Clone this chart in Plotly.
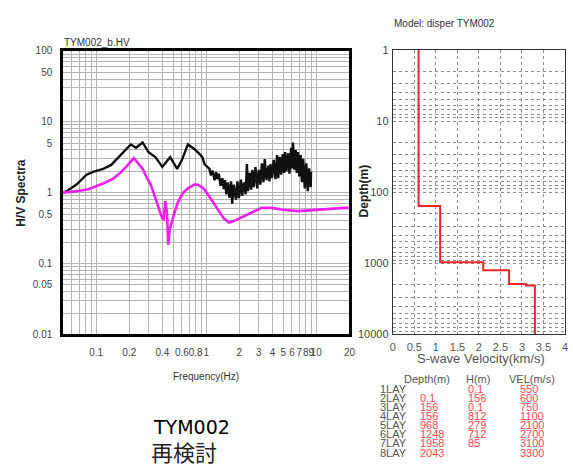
import math
import plotly.graph_objects as go

# ---------------- data ----------------
# Observed H/V (black, noisy)
freq_obs = [0.050, 0.054, 0.0667, 0.0818, 0.095, 0.116, 0.137, 0.161, 0.194, 0.206,
            0.230, 0.264, 0.299, 0.345, 0.399, 0.470, 0.544, 0.601, 0.681, 0.785,
            0.871, 0.927, 0.966, 1.03, 1.07,
            1.10, 1.14, 1.19, 1.23, 1.26, 1.30, 1.35, 1.40, 1.44, 1.48,
            1.52, 1.57, 1.62, 1.68, 1.72, 1.78, 1.86, 1.92, 1.98, 2.06,
            2.12, 2.20, 2.28, 2.34, 2.40, 2.48, 2.56, 2.62, 2.70, 2.80,
            2.90, 3.00, 3.10, 3.20, 3.31, 3.40, 3.52, 3.67, 3.75, 3.83,
            3.95, 4.10, 4.25, 4.40, 4.51, 4.65, 4.80, 4.95, 5.10, 5.21,
            5.35, 5.55, 5.70, 5.90, 6.00, 6.14, 6.30, 6.50, 6.65, 6.81,
            7.00, 7.20, 7.40, 7.60, 7.85, 8.10, 8.36, 8.60, 8.89, 8.95]
hv_obs = [1.00, 1.05, 1.31, 1.79, 1.98, 2.17, 2.46, 3.17, 4.30, 4.79,
          4.30, 5.10, 3.73, 3.17, 2.31, 3.17, 2.17, 2.88, 4.79, 4.09,
          3.50, 3.10, 2.50, 2.31, 2.17,
          1.75, 2.05, 1.50, 1.95, 1.55, 1.85, 1.25, 1.60, 1.12, 1.50,
          0.95, 1.40, 0.85, 1.44, 0.70, 1.30, 0.80, 1.44, 0.84, 1.53,
          0.90, 1.40, 0.95, 2.54, 1.05, 1.90, 1.10, 2.10, 1.20, 2.30,
          1.15, 2.10, 1.30, 2.60, 1.40, 2.98, 1.50, 2.40, 1.44, 2.54,
          1.60, 2.90, 1.55, 3.38, 1.60, 3.20, 1.80, 3.50, 1.90, 3.73,
          2.00, 3.60, 1.85, 4.30, 2.20, 5.10, 2.10, 4.00, 1.90, 3.73,
          1.70, 3.40, 1.40, 3.00, 1.15, 2.60, 1.05, 2.20, 1.20, 1.98]

# Theoretical H/V (magenta)
freq_theo = [0.050, 0.067, 0.085, 0.100, 0.120, 0.143, 0.165, 0.187, 0.205, 0.220,
             0.240, 0.264, 0.290, 0.312, 0.345, 0.380, 0.399, 0.410, 0.425, 0.435,
             0.442, 0.451, 0.465, 0.500, 0.550, 0.610, 0.681, 0.785, 0.850, 0.960,
             1.14, 1.30, 1.45, 1.61, 1.80, 1.98, 2.59, 3.18, 3.91, 5.21,
             6.81, 8.89, 13.4, 18.2, 20.0]
hv_theo = [1.00, 1.05, 1.12, 1.23, 1.38, 1.58, 1.90, 2.31, 2.70, 3.07,
           2.60, 2.17, 1.60, 1.31, 0.84, 0.55, 0.43, 0.42, 0.76, 0.60,
           0.45, 0.184, 0.30, 0.45, 0.72, 0.98, 1.15, 1.31, 1.28, 1.12,
           0.76, 0.55, 0.43, 0.38, 0.40, 0.43, 0.53, 0.61, 0.61, 0.57,
           0.55, 0.57, 0.59, 0.61, 0.61]

# Velocity model table
layer_names = ["1LAY", "2LAY", "3LAY", "4LAY", "5LAY", "6LAY", "7LAY", "8LAY"]
layer_depth = [0, 0.1, 156, 156, 968, 1248, 1958, 2043]
depth_text = ["", "0.1", "156", "156", "968", "1248", "1958", "2043"]
layer_h_text = ["0.1", "156", "0.1", "812", "279", "712", "85", ""]
layer_vel = [550, 600, 750, 1100, 2100, 2700, 3100, 3300]

hv_tick_labels = {0.01: "0.01", 0.05: "0.05", 0.1: "0.1", 0.5: "0.5", 1: "1", 5: "5",
                  10: "10", 50: "50", 100: "100"}
freq_tick_labels = {0.1: "0.1", 0.2: "0.2", 0.4: "0.4", 0.6: "0.6", 0.8: "0.8", 1: "1",
                    2: "2", 3: "3", 4: "4", 5: "5", 6: "6", 7: "7", 8: "8", 9: "9",
                    10: "10", 20: "20"}
depth_tick_labels = {1: "1", 10: "10", 100: "100", 1000: "1000", 10000: "10000"}
vel_ticks = [0, 0.5, 1, 1.5, 2, 2.5, 3, 3.5, 4]
vel_tick_text = ["0", "0.5", "1", "1.5", "2", "2.5", "3", "3.5", "4"]

assert len(freq_obs) == len(hv_obs)
assert len(freq_theo) == len(hv_theo)

# ---------------- helpers ----------------
W, H = 573, 475


def px(x):
    return x / W


def py(y):
    return 1 - y / H


def log_grid(lo_exp, hi_exp):
    vals = []
    for e in range(lo_exp, hi_exp):
        for k in range(1, 10):
            vals.append(round(k * 10 ** e, 6))
    vals.append(round(10 ** hi_exp, 6))
    return vals


def find_label(v, labels):
    for key, t in labels.items():
        if abs(v - key) < 1e-9 * max(1, key):
            return t
    return ""


hv_grid = log_grid(-2, 2)
hv_text = [find_label(v, hv_tick_labels) for v in hv_grid]
fq_grid = [0.05, 0.06, 0.07, 0.08, 0.09] + log_grid(-1, 1)[:-1] + [10, 20]
fq_text = [find_label(v, freq_tick_labels) for v in fq_grid]
dp_grid = log_grid(0, 4)
dp_text = [find_label(v, depth_tick_labels) for v in dp_grid]

# velocity profile step line
prof_x = [v / 1000 for v in layer_vel] + [layer_vel[-1] / 1000]
prof_y = [max(d, 0.01) for d in layer_depth] + [10000]

fig = go.Figure()
fig.add_trace(go.Scatter(x=freq_obs, y=hv_obs, mode="lines",
                         line=dict(color="#111111", width=2.4), xaxis="x", yaxis="y"))
fig.add_trace(go.Scatter(x=freq_theo, y=hv_theo, mode="lines",
                         line=dict(color="#f020f0", width=2.6), xaxis="x", yaxis="y"))
fig.add_trace(go.Scatter(x=prof_x, y=prof_y, mode="lines", line_shape="vh",
                         line=dict(color="#e8262c", width=2), xaxis="x2", yaxis="y2"))

tickfont = dict(family="Liberation Sans, Arial, sans-serif", size=10, color="#444444")

fig.update_layout(
    width=W, height=H,
    margin=dict(l=0, r=0, t=0, b=0),
    paper_bgcolor="white", plot_bgcolor="white",
    showlegend=False,
    xaxis=dict(type="log", range=[math.log10(0.05), math.log10(20)],
               domain=[px(61), px(352)], anchor="y",
               tickmode="array", tickvals=fq_grid, ticktext=fq_text, tickangle=0,
               showgrid=True, gridcolor="#b4b4b4", gridwidth=1,
               showline=True, mirror=True, linecolor="black", linewidth=2.5,
               ticks="", tickfont=tickfont, ticklabelstandoff=7, zeroline=False),
    yaxis=dict(type="log", range=[-2, 2],
               domain=[py(337), py(46)], anchor="x",
               tickmode="array", tickvals=hv_grid, ticktext=hv_text,
               showgrid=True, gridcolor="#b4b4b4", gridwidth=1,
               showline=True, mirror=True, linecolor="black", linewidth=2.5,
               ticks="", tickfont=tickfont, ticklabelstandoff=6, zeroline=False),
    xaxis2=dict(range=[0, 4], domain=[px(396), px(571)], anchor="y2",
                tickmode="array", tickvals=vel_ticks, ticktext=vel_tick_text, tickangle=0,
                showgrid=True, gridcolor="#8c8c8c", griddash="dot", gridwidth=1,
                showline=True, mirror=True, linecolor="#333333", linewidth=1,
                ticks="", tickfont=dict(family="Liberation Sans, Arial, sans-serif",
                                        size=11, color="#555555"),
                ticklabelstandoff=2, zeroline=False),
    yaxis2=dict(type="log", range=[4, 0], domain=[py(337), py(45)], anchor="x2",
                tickmode="array", tickvals=dp_grid, ticktext=dp_text,
                showgrid=True, gridcolor="#8c8c8c", griddash="dot", gridwidth=1,
                showline=True, mirror=True, linecolor="#333333", linewidth=1,
                ticks="", tickfont=dict(family="Liberation Sans, Arial, sans-serif",
                                        size=11, color="#444444"),
                ticklabelstandoff=1, zeroline=False),
)

ann = []
small = dict(family="Liberation Sans, Arial, sans-serif", size=10, color="#333333")
ann.append(dict(text="TYM002_b.HV", x=px(60), y=py(37), xanchor="left", yanchor="middle",
                font=small))
ann.append(dict(text="Model: disper TYM002", x=px(395), y=py(18), xanchor="left",
                yanchor="middle", font=small))
ann.append(dict(text="<b>H/V Spectra</b>", x=px(18), y=py(192), textangle=-90,
                xanchor="center", yanchor="middle",
                font=dict(family="Liberation Sans, Arial, sans-serif", size=12, color="#222222")))
ann.append(dict(text="<b>Depth(m)</b>", x=px(367), y=py(190), textangle=-90,
                xanchor="center", yanchor="middle",
                font=dict(family="Liberation Sans, Arial, sans-serif", size=12, color="#222222")))
ann.append(dict(text="Frequency(Hz)", x=px(206), y=py(380), xanchor="center",
                yanchor="middle", font=small))
ann.append(dict(text="S-wave Velocity(km/s)", x=px(486), y=py(362), xanchor="center",
                yanchor="middle",
                font=dict(family="Liberation Sans, Arial, sans-serif", size=13, color="#555555")))
ann.append(dict(text="TYM002", x=px(150), y=py(432), xanchor="left", yanchor="middle",
                font=dict(family="DejaVu Sans, sans-serif", size=19, color="black")))
ann.append(dict(text="再検討", x=px(148), y=py(457), xanchor="left", yanchor="middle",
                font=dict(family="Noto Sans CJK JP", size=22, color="#222222")))

# table
tfont_g = dict(family="Liberation Sans, Arial, sans-serif", size=11, color="#555555")
tfont_r = dict(family="Liberation Sans, Arial, sans-serif", size=11, color="#ff4a4a")
ann.append(dict(text="Depth(m)", x=px(405), y=py(383), xanchor="left", yanchor="middle", font=tfont_g))
ann.append(dict(text="H(m)", x=px(468), y=py(383), xanchor="left", yanchor="middle", font=tfont_g))
ann.append(dict(text="VEL(m/s)", x=px(512), y=py(383), xanchor="left", yanchor="middle", font=tfont_g))
for i, name in enumerate(layer_names):
    yy = 393 + i * 9.3
    ann.append(dict(text=name, x=px(381), y=py(yy), xanchor="left", yanchor="middle", font=tfont_g))
    if depth_text[i]:
        ann.append(dict(text=depth_text[i], x=px(422), y=py(yy), xanchor="left",
                        yanchor="middle", font=tfont_r))
    if layer_h_text[i]:
        ann.append(dict(text=layer_h_text[i], x=px(470), y=py(yy), xanchor="left",
                        yanchor="middle", font=tfont_r))
    ann.append(dict(text=str(layer_vel[i]), x=px(523), y=py(yy), xanchor="left",
                    yanchor="middle", font=tfont_r))

for a in ann:
    a.update(xref="paper", yref="paper", showarrow=False)
fig.update_layout(annotations=ann)

fig.write_html("out.html", config={"displayModeBar": False},
               post_script="document.body.style.margin='0';document.body.style.overflow='hidden';")
